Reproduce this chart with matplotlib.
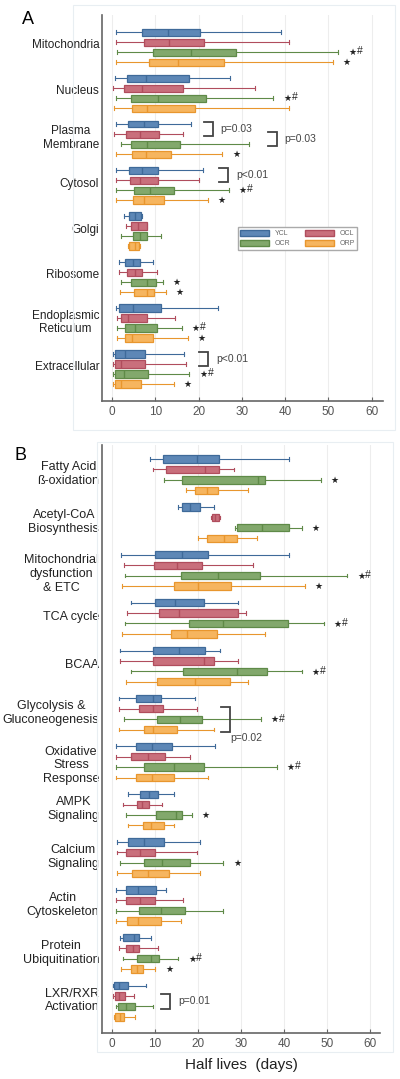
import matplotlib.pyplot as plt
from matplotlib.patches import Patch, Rectangle

plt.rcParams['font.family'] = ['Liberation Sans', 'DejaVu Sans']

series = ['YCL', 'OCL', 'OCR', 'ORP']
fill_colors = ['#5d87b6', '#c96f7c', '#82a86c', '#f6b55f']
edge_colors = ['#3f6a99', '#b04d5d', '#5f8a48', '#e8962e']

# ---- panel A: subcellular location ----
cats_a = ['Mitochondria', 'Nucleus', 'Plasma\nMembrane', 'Cytosol', 'Golgi',
          'Ribosome', 'Endoplasmic\nReticulum', 'Extracellular']
# [whisker low, q1, median, q3, whisker high]
ycl_a = [[0.9, 7.0, 13.0, 20.3, 39.0], [0.7, 3.5, 7.8, 17.8, 27.2],
         [0.9, 3.6, 7.4, 10.7, 18.2], [0.9, 3.9, 7.0, 10.7, 21.0],
         [2.8, 3.9, 5.3, 6.7, 7.0], [1.6, 3.0, 4.8, 6.5, 9.5],
         [0.9, 1.6, 4.8, 11.3, 24.5], [0.3, 0.7, 3.0, 7.6, 16.7]]
ocl_a = [[0.9, 7.4, 13.2, 21.2, 41.0], [0.3, 2.8, 6.9, 16.5, 33.0],
         [0.5, 3.2, 6.5, 10.8, 16.5], [0.9, 4.2, 6.5, 10.6, 20.1],
         [3.2, 4.4, 6.0, 8.0, 8.1], [1.6, 3.5, 5.3, 6.9, 10.3],
         [1.1, 2.0, 3.7, 8.0, 14.6], [0.3, 0.7, 2.0, 7.6, 17.0]]
ocr_a = [[1.1, 9.4, 18.2, 28.6, 52.3], [0.9, 4.4, 10.7, 21.7, 37.3],
         [2.0, 4.4, 8.1, 15.7, 31.6], [0.9, 5.1, 8.8, 14.3, 27.0],
         [2.0, 4.8, 6.5, 8.0, 11.3], [2.0, 4.5, 8.0, 10.1, 11.8],
         [1.1, 3.0, 5.3, 10.3, 16.1], [0.3, 0.7, 2.8, 8.4, 17.9]]
orp_a = [[0.9, 8.5, 15.2, 25.9, 51.0], [0.5, 4.6, 8.0, 19.2, 41.0],
         [0.9, 4.6, 7.8, 13.6, 25.5], [0.9, 4.9, 7.4, 12.0, 22.2],
         [3.8, 4.0, 5.3, 6.3, 6.5], [1.8, 5.1, 8.0, 9.7, 12.4],
         [1.1, 3.0, 4.6, 9.5, 17.5], [0.3, 0.7, 2.0, 6.7, 14.3]]
# (category, series row, extra mark after the star)
marks_a = [(0, 2, '#'), (0, 3, ''), (1, 2, '#'), (2, 3, ''), (3, 2, '#'), (3, 3, ''),
           (5, 2, ''), (5, 3, ''), (6, 2, '#'), (6, 3, ''), (7, 2, '#'), (7, 3, '')]
# (category, row from, row to, bracket x, label, label below?)
brackets_a = [(2, 0, 1, 23.3, 'p=0.03', False), (2, 1, 2, 38.1, 'p=0.03', False),
              (3, 0, 1, 26.8, 'p<0.01', False), (7, 0, 1, 22.2, 'p<0.01', False)]

# ---- panel B: pathways ----
cats_b = ['Fatty Acid\nß-oxidation', 'Acetyl-CoA\nBiosynthesis',
          'Mitochondrial\ndysfunction\n& ETC', 'TCA cycle', 'BCAA',
          'Glycolysis &\nGluconeogenesis', 'Oxidative\nStress\nResponse',
          'AMPK\nSignaling', 'Calcium\nSignaling', 'Actin\nCytoskeleton',
          'Protein\nUbiquitination', 'LXR/RXR\nActivation']
ycl_b = [[8.8, 11.9, 19.7, 24.9, 41.2], [15.4, 16.3, 18.2, 20.5, 23.8],
         [2.0, 10.1, 16.2, 22.4, 41.2], [4.4, 10.1, 14.6, 21.3, 29.4],
         [1.8, 9.6, 15.6, 21.6, 25.1], [1.6, 5.6, 9.5, 11.4, 19.3],
         [0.9, 5.6, 9.2, 14.0, 24.0], [3.6, 6.5, 8.7, 10.8, 14.5],
         [1.1, 3.6, 7.5, 12.2, 20.5], [0.9, 3.2, 6.1, 10.3, 12.6],
         [1.9, 2.5, 5.1, 6.3, 9.0], [0.3, 0.5, 1.6, 3.6, 7.8]]
ocl_b = [[9.6, 12.5, 21.6, 24.9, 28.4], [23.0, 23.2, 23.9, 24.9, 25.0],
         [2.8, 9.8, 15.2, 21.0, 32.7], [3.5, 10.9, 15.6, 29.4, 31.2],
         [1.8, 9.6, 21.4, 23.7, 29.4], [1.6, 6.3, 9.5, 11.9, 19.7],
         [0.9, 4.4, 8.4, 12.3, 18.1], [2.5, 5.7, 6.9, 8.6, 11.7],
         [1.1, 3.2, 6.5, 10.0, 19.7], [0.9, 3.2, 6.5, 10.0, 16.4],
         [1.6, 3.2, 4.8, 6.3, 10.8], [0.3, 0.7, 1.6, 3.0, 5.1]]
ocr_b = [[12.2, 16.2, 34.0, 35.6, 48.6], [28.6, 29.0, 34.8, 41.1, 44.1],
         [3.0, 16.1, 24.6, 34.4, 54.7], [3.0, 17.9, 25.7, 40.8, 49.3],
         [4.4, 16.4, 29.1, 36.0, 44.1], [2.8, 10.4, 15.8, 20.9, 34.6],
         [0.9, 7.5, 14.3, 21.3, 38.4], [3.2, 10.2, 14.8, 16.2, 18.5],
         [1.9, 7.4, 11.7, 18.1, 25.9], [0.9, 6.3, 11.5, 17.0, 25.7],
         [2.5, 5.7, 9.0, 11.0, 15.4], [1.0, 1.3, 3.2, 5.3, 9.6]]
orp_b = [[17.1, 19.3, 22.1, 24.7, 31.7], [19.9, 22.0, 26.0, 29.0, 33.8],
         [2.3, 14.5, 19.9, 27.6, 44.9], [2.3, 13.6, 17.5, 24.5, 35.6],
         [3.2, 10.4, 19.4, 27.4, 31.7], [1.6, 7.5, 9.6, 15.0, 23.8],
         [0.9, 5.6, 9.2, 14.3, 22.2], [3.7, 7.1, 9.0, 12.1, 14.3],
         [1.1, 4.6, 8.3, 13.3, 20.5], [0.9, 3.5, 6.1, 11.4, 16.0],
         [2.1, 4.3, 5.9, 7.3, 10.1], [0.5, 0.7, 1.8, 2.8, 5.3]]
marks_b = [(0, 2, ''), (1, 2, ''), (2, 2, '#'), (2, 3, ''), (3, 2, '#'), (4, 2, '#'),
           (5, 2, '#'), (6, 2, '#'), (7, 2, ''), (8, 2, ''), (10, 2, '#'), (10, 3, '')]
brackets_b = [(5, 1, 3, 27.4, 'p=0.02', True), (11, 1, 2, 13.5, 'p=0.01', False)]

GAP = 4.6  # distance between categories, in box rows


def draw_panel(ax, cats, data, marks, brackets, label_size, margins):
    for s, vals in enumerate(data):
        stats = [dict(whislo=v[0], q1=v[1], med=v[2], q3=v[3], whishi=v[4]) for v in vals]
        pos = [g * GAP + s for g in range(len(cats))]
        ec = edge_colors[s]
        ax.bxp(stats, positions=pos, widths=0.7, capwidths=0.35,
               orientation='horizontal', patch_artist=True, showfliers=False,
               boxprops=dict(facecolor=fill_colors[s], edgecolor=ec, linewidth=0.9),
               medianprops=dict(color=ec, linewidth=1.0),
               whiskerprops=dict(color=ec, linewidth=0.8),
               capprops=dict(color=ec, linewidth=0.8))
    for g, s, extra in marks:
        y = g * GAP + s
        x = data[s][g][4]
        ax.annotate('★', (x, y), xytext=(7, -0.5), textcoords='offset points',
                    ha='left', va='center', fontsize=6.5, family='DejaVu Sans',
                    color='#222')
        if extra:
            ax.annotate(extra, (x, y), xytext=(13, 0.5), textcoords='offset points',
                        ha='left', va='center', fontsize=7.5, color='#222')
    for g, r0, r1, x, label, below in brackets:
        y0 = g * GAP + r0 - 0.2
        y1 = g * GAP + r1 + 0.2
        ax.plot([x - 2.0, x, x, x - 2.0], [y0, y0, y1, y1], color='#444', lw=1.3,
                solid_joinstyle='miter')
        if below:
            ax.text(x, y1 + 0.6, label, ha='left', va='center', fontsize=7.5, color='#444')
        else:
            ax.text(x + 1.8, (y0 + y1) / 2, label, ha='left', va='center',
                    fontsize=7.5, color='#444')
    n = len(cats)
    ax.set_ylim((n - 1) * GAP + 3 + margins[1], -margins[0])
    ax.set_yticks([g * GAP + (1.6 if c.count('\n') == 2 else 1.2)
                   for g, c in enumerate(cats)])
    ax.set_yticklabels(cats, fontsize=label_size, multialignment='center', color='#222')
    ax.tick_params(axis='y', length=0, pad=2)
    ax.set_xticks(range(0, 61, 10))
    ax.tick_params(axis='x', direction='in', length=3, color='#666',
                   labelcolor='#555', labelsize=8.5)
    ax.grid(axis='x', color='#ededed', lw=0.8)
    ax.set_axisbelow(True)
    for side in ['top', 'right']:
        ax.spines[side].set_visible(False)
    for side in ['left', 'bottom']:
        ax.spines[side].set_color('#666')
        ax.spines[side].set_linewidth(1.2)


fig = plt.figure(figsize=(4.0, 10.79), dpi=100)

# faint panel frames
fig.add_artist(Rectangle((73 / 400, 1 - 430 / 1079), 322 / 400, 425 / 1079,
                         transform=fig.transFigure, fill=False, ec='#e8eef2', lw=0.8))
fig.add_artist(Rectangle((97 / 400, 1 - 1052 / 1079), 296 / 400, 610 / 1079,
                         transform=fig.transFigure, fill=False, ec='#e8eef2', lw=0.8))

ax_a = fig.add_axes([0.255, 1 - 401 / 1079, 0.7025, 386 / 1079])
draw_panel(ax_a, cats_a, [ycl_a, ocl_a, ocr_a, orp_a], marks_a, brackets_a, 8.5, (1.7, 1.7))
ax_a.set_xlim(-2.3, 62.6)

handles = [Patch(facecolor=fill_colors[i], edgecolor=edge_colors[i], label=series[i])
           for i in [0, 2, 1, 3]]
leg = ax_a.legend(handles=handles, ncol=2, loc='upper left', bbox_to_anchor=(0.47, 0.46),
                  fontsize=5, handlelength=4.2, handleheight=1.0, columnspacing=2.0,
                  handletextpad=0.8, borderpad=0.4, labelspacing=0.35, fancybox=False,
                  edgecolor='#aaa', framealpha=1)
for t in leg.get_texts():
    t.set_color('#666')

ax_b = fig.add_axes([0.255, 1 - 1033 / 1079, 0.695, 588 / 1079])
draw_panel(ax_b, cats_b, [ycl_b, ocl_b, ocr_b, orp_b], marks_b, brackets_b, 9, (1.35, 1.55))
ax_b.set_xlim(-2.33, 62.3)
ax_b.set_xlabel('Half lives  (days)', fontsize=11, color='#222', labelpad=6)

fig.text(22 / 400, 1 - 20 / 1079, 'A', fontsize=13, va='center', ha='left')
fig.text(14 / 400, 1 - 455 / 1079, 'B', fontsize=13, va='center', ha='left')

plt.savefig('out.png', dpi=100)
